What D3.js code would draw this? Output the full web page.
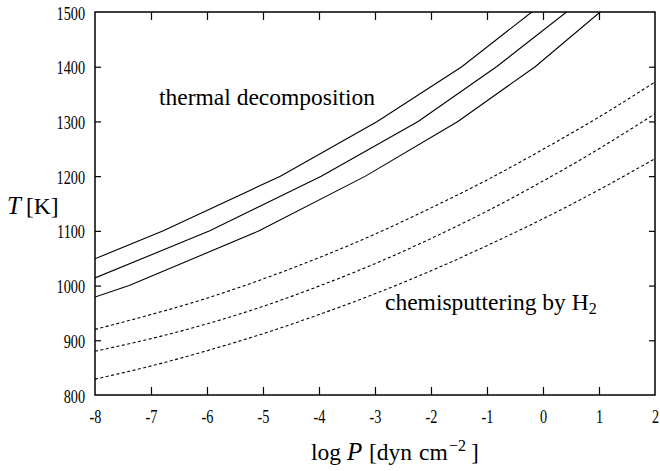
<!DOCTYPE html>
<html>
<head>
<meta charset="utf-8">
<script src="https://cdn.jsdelivr.net/npm/d3@7"></script>
<style>
  html, body { margin: 0; padding: 0; background: #fff; }
  svg { display: block; }
</style>
</head>
<body>
<svg id="chart" width="660" height="471"></svg>
<script>
// ---- data ----
const xTicks = [-8, -7, -6, -5, -4, -3, -2, -1, 0, 1, 2];
const yTicks = [800, 900, 1000, 1100, 1200, 1300, 1400, 1500];

// thermal decomposition (solid)
const thermal1P = [-8, -6.78, -4.69, -2.96, -1.45, -0.2];
const thermal1T = [1049, 1100, 1200, 1300, 1400, 1500];
const thermal2P = [-8, -5.95, -3.96, -2.23, -0.83, 0.42];
const thermal2T = [1014, 1100, 1200, 1300, 1400, 1500];
const thermal3P = [-8, -7.39, -5.07, -3.17, -1.52, -0.14, 1.02];
const thermal3T = [979, 1000, 1100, 1200, 1300, 1400, 1500];

// chemisputtering by H2 (dashed)
const chemP = [-8, -7, -6, -5, -4, -3, -2, -1, 0, 1, 2];
const chem1T = [920, 947, 977, 1012, 1051, 1094, 1142, 1193, 1249, 1308, 1372];
const chem2T = [880, 903, 930, 962, 999, 1040, 1086, 1136, 1191, 1250, 1314];
const chem3T = [829, 853, 881, 912, 947, 985, 1027, 1073, 1122, 1175, 1232];

// ---- layout ----
const FONT = "Liberation Serif";
const svg = d3.select("#chart");
const L = 95, R = 655, T = 12, B = 395;
const x = d3.scaleLinear().domain([-8, 2]).range([L, R]);
const y = d3.scaleLinear().domain([800, 1500]).range([B, T]);

svg.append("defs").append("clipPath").attr("id", "clip")
  .append("rect").attr("x", L).attr("y", T).attr("width", R - L).attr("height", B - T);

// axes
const sx = 0.75; // tick label horizontal squeeze
function styleAxis(g) {
  g.attr("font-family", FONT).attr("font-size", 19);
  g.select(".domain").remove();
  g.selectAll(".tick line").attr("stroke", "#000").attr("stroke-width", 1.2);
  g.selectAll(".tick text").attr("fill", "#000");
}
const gl = svg.append("g").attr("transform", `translate(${L},0)`)
  .call(d3.axisLeft(y).tickValues(yTicks).tickSize(-6).tickFormat(d => String(d)));
styleAxis(gl);
gl.selectAll(".tick text").attr("x", -10 / sx).attr("dy", null).attr("y", 7)
  .attr("transform", `scale(${sx},1)`);

const gr = svg.append("g").attr("transform", `translate(${R},0)`)
  .call(d3.axisRight(y).tickValues(yTicks).tickSize(-6).tickFormat(""));
styleAxis(gr);

const gb = svg.append("g").attr("transform", `translate(0,${B})`)
  .call(d3.axisBottom(x).tickValues(xTicks).tickSize(-8).tickFormat(d => String(d)));
styleAxis(gb);
gb.selectAll(".tick text").attr("y", 28).attr("dy", null).attr("x", 0)
  .attr("transform", `scale(${sx},1)`);

const gt = svg.append("g").attr("transform", `translate(0,${T})`)
  .call(d3.axisTop(x).tickValues(xTicks).tickSize(-8).tickFormat(""));
styleAxis(gt);

// remove end ticks that coincide with the frame
[gl, gr].forEach(g => g.selectAll(".tick").filter(d => d === 800 || d === 1500).select("line").remove());
[gb, gt].forEach(g => g.selectAll(".tick").filter(d => d === -8 || d === 2).select("line").remove());

// lines
const line = d3.line().x(d => x(d[0])).y(d => y(d[1]));
const smooth = d3.line().x(d => x(d[0])).y(d => y(d[1])).curve(d3.curveMonotoneX);
const plot = svg.append("g").attr("clip-path", "url(#clip)");
[[thermal1P, thermal1T], [thermal2P, thermal2T], [thermal3P, thermal3T]].forEach(([P, Tv]) => {
  plot.append("path").datum(P.map((p, i) => [p, Tv[i]]))
    .attr("d", line).attr("fill", "none").attr("stroke", "#000").attr("stroke-width", 1.1);
});
[chem1T, chem2T, chem3T].forEach(Tv => {
  plot.append("path").datum(chemP.map((p, i) => [p, Tv[i]]))
    .attr("d", smooth).attr("fill", "none").attr("stroke", "#000").attr("stroke-width", 1.1)
    .attr("stroke-dasharray", "3,2.5");
});

// frame
svg.append("rect").attr("x", L).attr("y", T).attr("width", R - L).attr("height", B - T)
  .attr("fill", "none").attr("stroke", "#000").attr("stroke-width", 1.5);

// annotations
function txt(xp, yp, size) {
  return svg.append("text").attr("x", xp).attr("y", yp).attr("fill", "#000")
    .attr("font-family", FONT).attr("font-size", size);
}
txt(159, 105, 23.5).text("thermal decomposition");
const ch = txt(385, 310, 23.5);
ch.append("tspan").text("chemisputtering by H");
ch.append("tspan").attr("dy", 4).attr("font-size", 16).text("2");

// axis titles
const yl = txt(7, 214, 23.5);
yl.append("tspan").attr("font-style", "italic").attr("font-size", 25).text("T");
yl.append("tspan").attr("x", 26).text("[K]");

const xl = txt(311, 460, 23.5);
xl.append("tspan").text("log");
xl.append("tspan").attr("x", 347).attr("font-style", "italic").attr("font-size", 25).text("P");
xl.append("tspan").attr("x", 369).text("[dyn");
xl.append("tspan").attr("x", 419).text("cm");
xl.append("tspan").attr("x", 449).attr("dy", -9).attr("font-size", 16).text("\u22122");
xl.append("tspan").attr("x", 471).attr("dy", 9).text("]");
</script>
</body>
</html>
